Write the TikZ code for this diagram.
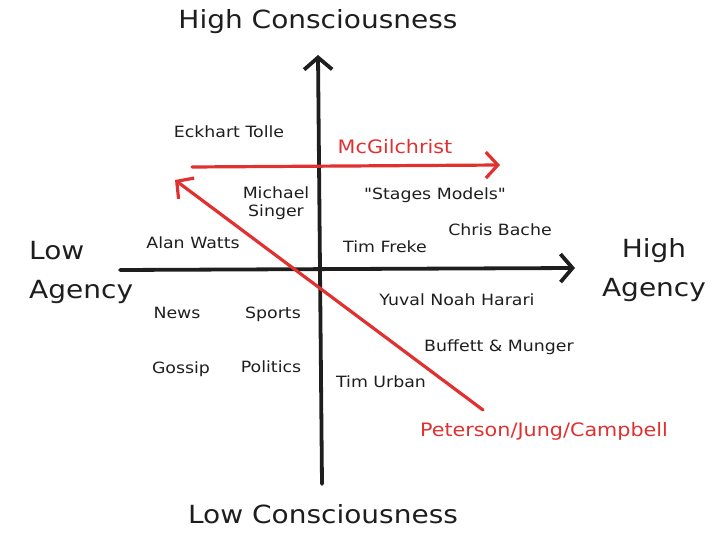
\documentclass[tikz,border=0pt]{standalone}
\usepackage{fontspec}
\setmainfont{DejaVu Sans}[FakeStretch=1.12, Ligatures=TeXOff]
\usetikzlibrary{arrows.meta}
\definecolor{ink}{HTML}{1E1E1E}
\definecolor{exred}{HTML}{E03131}
\tikzset{
  lbl/.style={font=\fontsize{15.5}{18}\selectfont, text=ink, inner sep=0pt},
  rlbl/.style={font=\fontsize{18.5}{22}\selectfont, text=exred, inner sep=0pt},
  title/.style={font=\fontsize{25}{39}\selectfont, text=ink, inner sep=0pt},
  axis/.style={draw=ink, line width=3.8pt, line cap=round, -{Straight Barb[length=12pt,width=28pt,line width=3.8pt]}},
  raxis/.style={draw=exred, line width=3.2pt, line cap=round, -{Straight Barb[length=12pt,width=26pt,line width=3.2pt]}},
}
\begin{document}
\begin{tikzpicture}[x=1pt,y=-1pt]
\useasboundingbox (0,0) rectangle (722,545);
% axes
\coordinate (vbot) at (322,484);
\coordinate (vtop) at (318,55);
\coordinate (hleft) at (120,270);
\coordinate (hright) at (575,268);
\draw[axis] (vbot) -- (vtop);
\draw[axis] (hleft) -- (hright);
% red arrows
\coordinate (mcs) at (192,167);
\coordinate (mce) at (500,165);
\coordinate (pjs) at (483,410);
\coordinate (pje) at (175,180);
\draw[raxis] (mcs) -- (mce);
\draw[raxis] (pjs) -- (pje);
% titles
\node[title] (hc) at (318,22) {High Consciousness};
\node[title] (lc) at (323,514) {Low Consciousness};
\node[title, align=left, anchor=west] (la) at (29,272) {Low\\Agency};
\node[title, align=center] (ha) at (654,270) {High\\Agency};
% red labels
\node[rlbl] (mc) at (395,147) {McGilchrist};
\node[rlbl] (pjc) at (544,431) {Peterson/Jung/Campbell};
% names
\node[lbl] (et) at (229,132) {Eckhart Tolle};
\node[lbl, align=center] (ms) at (276,203) {Michael\\Singer};
\node[lbl] (sm) at (435,195) {"Stages Models"};
\node[lbl] (cb) at (500,230) {Chris Bache};
\node[lbl] (aw) at (193,243) {Alan Watts};
\node[lbl] (tf) at (385,247) {Tim Freke};
\node[lbl] (yh) at (457,300) {Yuval Noah Harari};
\node[lbl] (nw) at (177,313) {News};
\node[lbl] (sp) at (273,314) {Sports};
\node[lbl] (bm) at (499,347) {Buffett \& Munger};
\node[lbl] (gs) at (181,369) {Gossip};
\node[lbl] (pl) at (271,367) {Politics};
\node[lbl] (tu) at (381,382) {Tim Urban};
\end{tikzpicture}
\end{document}
